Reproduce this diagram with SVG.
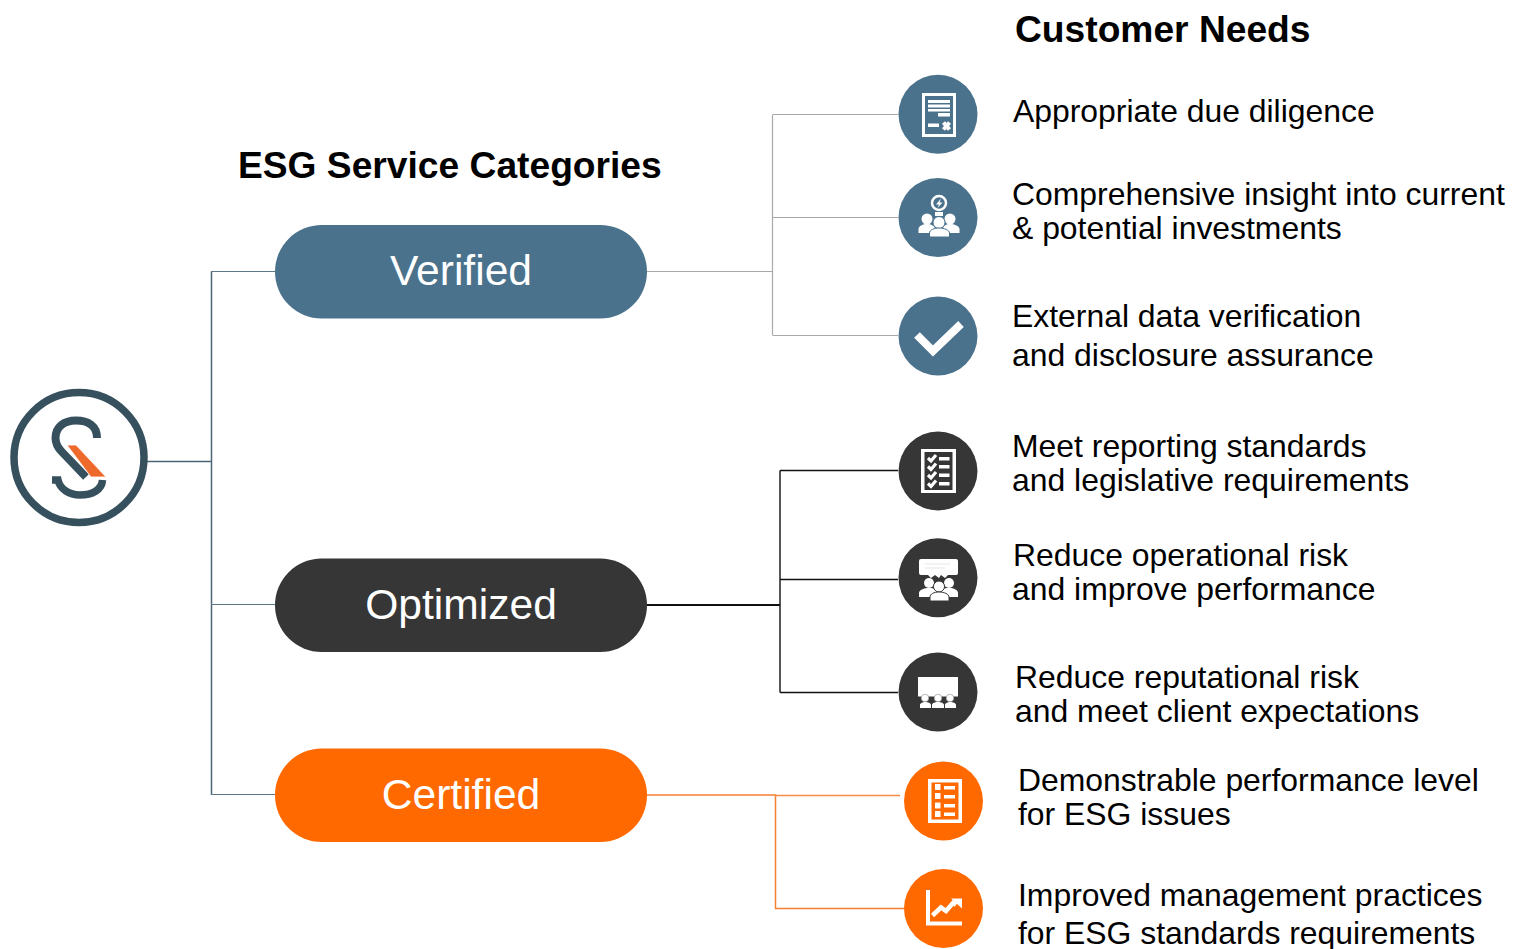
<svg xmlns="http://www.w3.org/2000/svg" width="1514" height="949" viewBox="0 0 1514 949">
<style>
text{font-family:"Liberation Sans",Arial,sans-serif;fill:#000}
.t{font-size:31.9px}
.h{font-size:37.2px;font-weight:700}
.p{font-size:42.6px;fill:#fff;text-anchor:middle}
.c path{fill:none}
.w{fill:#fff}
.s{fill:none;stroke:#fff}
.blue{fill:#4b728c}.dark{fill:#363636}.or{fill:#ff6900}
</style>
<rect width="1514" height="949" fill="#fff"/>
<g id="connectors" class="c">
<path d="M147 461.500H211.500M211.500 271.500V795" stroke="#4d6675" stroke-width="1.500"/>
<path d="M211 271.500H275M211 604.500H275M211 794.500H275" stroke="#5f7887" stroke-width="1.200"/>
<path d="M647 271.500H773M772.500 114.500V335.500M773 114.500H898M773 217.500H898M773 335.500H898" stroke="#a9a9a9" stroke-width="1.200"/>
<path d="M647 605H780" stroke="#111" stroke-width="2"/>
<path d="M780 470.500V692.500M780 470.500H898M780 579.500H898M780 692.500H898" stroke="#111" stroke-width="1.400"/>
<path d="M647 795H775.500V908.500H904" stroke="#f57f30" stroke-width="1.500"/>
<path d="M775 795.500H900" stroke="#f58a45" stroke-width="1.500"/>
</g>
<g id="logo">
<circle cx="79" cy="457.500" r="65" fill="none" stroke="#37505e" stroke-width="7.500"/>
<path d="M97 438C97 426 88 420.500 76 420.500C64 420.500 55.500 427 55.500 438C55.500 444 58 448 62 452L86 477" fill="none" stroke="#37505e" stroke-width="8"/>
<path d="M52 480H58C60 489 69 495 80 495C92 495 102 490 102.500 480" fill="none" stroke="#37505e" stroke-width="7.500"/>
<path d="M67 445H76L106 477H91Z" fill="#ee6a2c" stroke="#fff" stroke-width="0.800"/>
</g>
<g id="title-categories"><text class="h" x="238" y="178">ESG Service Categories</text></g>
<g id="title-needs"><text class="h" x="1015" y="42">Customer Needs</text></g>
<g id="verified"><rect x="275" y="225" width="372" height="93.500" rx="46.700" class="blue"/><text class="p" x="461" y="285">Verified</text></g>
<g id="optimized"><rect x="275" y="558.500" width="372" height="93.500" rx="46.700" class="dark"/><text class="p" x="461" y="619">Optimized</text></g>
<g id="certified"><rect x="275" y="748.500" width="372" height="93.500" rx="46.700" class="or"/><text class="p" x="461" y="809">Certified</text></g>
<g id="need-1">
<circle cx="938" cy="114.300" r="39.500" class="blue"/>
<rect x="922" y="93" width="34" height="44" class="w"/>
<rect x="925" y="96" width="28" height="38" class="blue"/>
<path d="M928 100H950V103H928ZM928 104.500H950V107.500H928ZM928 109H950V111.500H928ZM938 113H950V116.500H938ZM928 123.500H939V127H928Z" class="w"/>
<path d="M943.500 122.500L949.500 129.500M949.500 122.500L943.500 129.500" class="s" stroke-width="4"/>
<text class="t" x="1013" y="122">Appropriate due diligence</text>
</g>
<g id="need-2">
<circle cx="938" cy="217.500" r="39.500" class="blue"/>
<circle cx="939" cy="203" r="7" fill="none" stroke="#fff" stroke-width="2.500"/>
<path d="M941 198.500L936 204.500H939L937.500 208L942.500 202.500H939.500Z" class="w"/>
<path d="M935 212H943V216H935Z" class="w"/>
<circle cx="927" cy="219" r="5.500" class="w"/><circle cx="950" cy="219" r="5.500" class="w"/>
<path d="M918.500 233V229C918.500 226 923 224 927 224C931 224 935 226 935 229V233ZM943 233V229C943 226 946 224 950 224C954 224 959.500 226 959.500 229V233Z" class="w"/>
<circle cx="939" cy="222.500" r="6" stroke="#4b728c" class="w"/>
<path d="M929.500 237V233C929.500 230 934 228 939 228C944 228 949.500 230 949.500 233V237Z" stroke="#4b728c" class="w"/>
<text class="t" x="1012" y="205">Comprehensive insight into current</text>
<text class="t" x="1012" y="239">&amp; potential investments</text>
</g>
<g id="need-3">
<circle cx="938" cy="336" r="39.500" class="blue"/>
<path d="M917 335L933 351L961 324" class="s" stroke-width="8"/>
<text class="t" x="1012" y="327">External data verification</text>
<text class="t" x="1012" y="366">and disclosure assurance</text>
</g>
<g id="need-4">
<circle cx="938" cy="471" r="39.500" class="dark"/>
<rect x="921" y="449" width="35" height="44" class="w"/>
<rect x="924.500" y="452" width="28" height="38" class="dark"/>
<path d="M928 458L931 461L936 455M928 466.500L931 469.500L936 463.500M928 475L931 478L936 472M928 483.500L931 486.500L936 480.500" class="s" stroke-width="3.200"/>
<path d="M939 457H949.500V460.500H939ZM939 465H949.500V468.500H939ZM939 473.500H949.500V477H939ZM939 482H949.500V485.500H939Z" class="w"/>
<text class="t" x="1012" y="457">Meet reporting standards</text>
<text class="t" x="1012" y="491">and legislative requirements</text>
</g>
<g id="need-5">
<circle cx="938" cy="577.800" r="39.500" class="dark"/>
<path d="M921 559H956Q958 559 958 561V573Q958 575 956 575H948L945 578L941 575L939 578L935 575L931 578L928 575H921Q919 575 919 573V561Q919 559 921 559Z" class="w"/>
<path d="M925 564H950M925 568H945" stroke="#e6e6e6" fill="none"/>
<circle cx="929" cy="583" r="5" class="w"/><circle cx="949" cy="583" r="5" class="w"/>
<path d="M919 597V593C919 590 924 588 929 588C934 588 938 590 938 593V597ZM939 597V593C939 590 944 588 949 588C954 588 958 590 958 593V597Z" class="w"/>
<circle cx="939" cy="586.500" r="5.500" stroke="#363636" class="w"/>
<path d="M930 601V597C930 594 934 592 939 592C944 592 949 594 949 597V601Z" stroke="#363636" class="w"/>
<text class="t" x="1013" y="566">Reduce operational risk</text>
<text class="t" x="1012" y="600">and improve performance</text>
</g>
<g id="need-6">
<circle cx="938" cy="692" r="39.500" class="dark"/>
<rect x="918" y="677" width="40" height="19.500" class="w"/>
<g class="w" stroke="#8a8a8a" stroke-width="0.600"><circle cx="925" cy="698" r="3.800"/><circle cx="938" cy="698" r="3.800"/><circle cx="950" cy="698" r="3.800"/></g>
<path d="M920 708V705C920 703 923 702 925 702C928 702 931 703 931 705V708ZM932 708V705C932 703 935 702 938 702C941 702 944 703 944 705V708ZM945 708V705C945 703 948 702 950 702C953 702 956 703 956 705V708Z" class="w"/>
<text class="t" x="1015" y="688">Reduce reputational risk</text>
<text class="t" x="1015" y="722">and meet client expectations</text>
</g>
<g id="need-7">
<circle cx="943.500" cy="801" r="39.500" class="or"/>
<rect x="928" y="779" width="34" height="44" class="w"/>
<rect x="931.500" y="782.500" width="27" height="37" class="or"/>
<path d="M935 784H940.500V790H935ZM935 793H940.500V799H935ZM935 802.500H940.500V808.500H935ZM935 811H940.500V817H935ZM944 786H955V789.500H944ZM944 795H955V798.500H944ZM944 804H955V807.500H944ZM944 812.500H955V816H944Z" class="w"/>
<text class="t" x="1018" y="791">Demonstrable performance level</text>
<text class="t" x="1018" y="825">for ESG issues</text>
</g>
<g id="need-8">
<circle cx="943.500" cy="908.500" r="39.500" class="or"/>
<path d="M926 890H930V921.500H962V925.500H926Z" class="w"/>
<path d="M932.500 915.500L941 907.500L946 911L953 903L956 905" class="s" stroke-width="4.500"/>
<path d="M951 898.500H962V908.500Z" class="w"/>
<text class="t" x="1018" y="906">Improved management practices</text>
<text class="t" x="1018" y="944">for ESG standards requirements</text>
</g>
</svg>
